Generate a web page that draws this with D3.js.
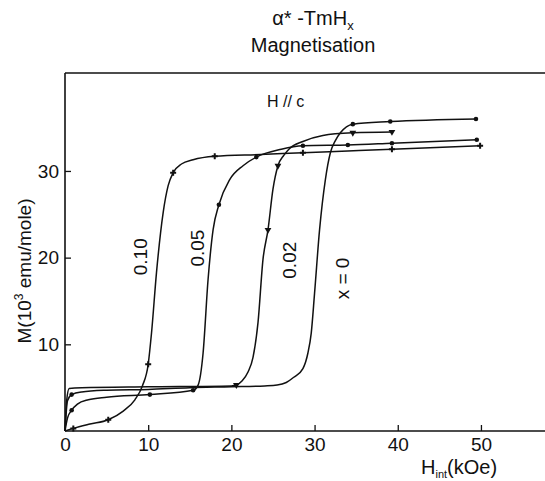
<!DOCTYPE html>
<html>
<head>
<meta charset="utf-8">
<script src="https://cdn.jsdelivr.net/npm/d3@7"></script>
<style>
  body { margin: 0; background: #fff; }
  text { font-family: "Liberation Sans", Arial, sans-serif; fill: #111; }
</style>
</head>
<body>
<div id="chart"></div>
<script>
// values: H_int (kOe) and M (10^3 emu/mole)
var H10 = [0, 1.0, 3, 5.2, 7, 8.4, 9.3, 10.0, 10.4, 11.0, 11.8, 12.4, 13.0, 14, 15.4, 18.0, 23.5, 28.6, 34, 39.3, 49.9];
var M10 = [0, 0.3, 0.8, 1.3, 2.3, 3.6, 5.2, 7.7, 11.3, 18.3, 25.2, 28.3, 29.8, 30.8, 31.3, 31.7, 31.9, 32.1, 32.3, 32.5, 32.9];
var H05 = [0, 0.3, 0.8, 1.5, 2.8, 5, 10.2, 15.4, 16.0, 16.6, 17.2, 17.8, 18.5, 19.8, 21.4, 23.0, 26, 28.6, 34, 39.3, 49.5];
var M05 = [0, 1.5, 2.4, 3.1, 3.6, 3.9, 4.2, 4.7, 5.3, 9, 17.5, 23.2, 26.1, 29.0, 30.6, 31.6, 32.5, 32.9, 33.0, 33.2, 33.6];
var H02 = [0, 0.2, 0.5, 2, 10, 20, 20.6, 21.3, 22.0, 22.6, 23.2, 23.8, 24.4, 25.0, 25.6, 26.3, 27.0, 28.6, 31, 34.6, 39.3];
var M02 = [0, 3.5, 4.9, 5.0, 5.1, 5.2, 5.3, 5.8, 6.8, 8.5, 12.5, 19.8, 23.2, 27.9, 30.6, 31.8, 32.6, 33.4, 34.1, 34.4, 34.5];
var H00 = [0, 0.3, 0.8, 2, 5, 10, 15, 20, 24, 25.5, 26.6, 27.5, 28.6, 29.2, 29.6, 30.0, 30.6, 31.3, 31.9, 32.5, 33.1, 34.6, 39.1, 49.4];
var M00 = [0, 3.5, 4.2, 4.5, 4.7, 4.8, 5.0, 5.1, 5.2, 5.3, 5.6, 6.2, 7.2, 9.0, 11.3, 15.9, 23.2, 29.0, 32.1, 33.5, 34.4, 35.4, 35.7, 36.0];

// indices of points that carry a symbol
var marks10 = [1, 3, 7, 12, 15, 17, 19, 20];
var marks05 = [2, 6, 7, 12, 15, 17, 18, 19, 20];
var marks02 = [6, 12, 14, 19, 20];
var marks00 = [2, 21, 22, 23];

var curveLabels = ["0.10", "0.05", "0.02", "x = 0"];
var labelPos = [[9.0, 20.1], [15.9, 21.1], [27.0, 19.7], [33.3, 17.6]];

var xTicks = [0, 10, 20, 30, 40, 50];
var yTicks = [10, 20, 30];

var width = 545, height = 481;

var svg = d3.select("#chart").append("svg")
    .attr("width", width)
    .attr("height", height);

var x = d3.scaleLinear().domain([0, 57.7]).range([65, 545]);
var y = d3.scaleLinear().domain([0, 41.3]).range([431, 73]);

// frame: left, bottom, top
var frame = svg.append("g")
    .attr("stroke", "#111")
    .attr("stroke-width", 1.6);
frame.append("line").attr("x1", x(0)).attr("x2", x(0)).attr("y1", y(0)).attr("y2", y(41.3));
frame.append("line").attr("x1", x(0)).attr("x2", x(57.7)).attr("y1", y(0)).attr("y2", y(0));
frame.append("line").attr("x1", x(0)).attr("x2", x(57.7)).attr("y1", y(41.3)).attr("y2", y(41.3));

// axes with inward ticks
var xAxis = svg.append("g")
    .attr("transform", "translate(0," + y(0) + ")")
    .call(d3.axisBottom(x).tickValues(xTicks).tickSizeInner(-6).tickSizeOuter(0).tickPadding(7));
xAxis.select(".domain").remove();
xAxis.selectAll(".tick line").attr("stroke", "#111").attr("stroke-width", 1.3)
    .filter(function(d) { return d == 0; }).remove();
xAxis.selectAll(".tick text")
    .style("font-size", "19px")
    .style("font-family", "Liberation Sans, Arial, sans-serif")
    .attr("fill", "#111");

var yAxis = svg.append("g")
    .attr("transform", "translate(" + x(0) + ",0)")
    .call(d3.axisLeft(y).tickValues(yTicks).tickSizeInner(-6).tickSizeOuter(0).tickPadding(6));
yAxis.select(".domain").remove();
yAxis.selectAll(".tick line").attr("stroke", "#111").attr("stroke-width", 1.3);
yAxis.selectAll(".tick text")
    .style("font-size", "19px")
    .style("font-family", "Liberation Sans, Arial, sans-serif")
    .attr("fill", "#111");

// curves
var series = [
  { h: H10, m: M10, marks: marks10, sym: "plus" },
  { h: H05, m: M05, marks: marks05, sym: "dot" },
  { h: H02, m: M02, marks: marks02, sym: "tri" },
  { h: H00, m: M00, marks: marks00, sym: "dot" }
];

var line = d3.line()
    .x(function(d) { return x(d[0]); })
    .y(function(d) { return y(d[1]); })
    .curve(d3.curveMonotoneX);

series.forEach(function(s) {
  var pts = s.h.map(function(h, i) { return [h, s.m[i]]; });
  svg.append("path")
    .datum(pts)
    .attr("d", line)
    .attr("fill", "none")
    .attr("stroke", "#111")
    .attr("stroke-width", 1.5);

  var mk = s.marks.map(function(i) { return pts[i]; });
  var g = svg.append("g");
  if (s.sym == "plus") {
    g.selectAll("path").data(mk).enter().append("path")
      .attr("d", d3.symbol().type(d3.symbolCross).size(20))
      .attr("transform", function(d) { return "translate(" + x(d[0]) + "," + y(d[1]) + ")"; })
      .attr("fill", "#111");
  } else if (s.sym == "tri") {
    g.selectAll("path").data(mk).enter().append("path")
      .attr("d", d3.symbol().type(d3.symbolTriangle).size(20))
      .attr("transform", function(d) { return "translate(" + x(d[0]) + "," + y(d[1]) + ") rotate(180)"; })
      .attr("fill", "#111");
  } else {
    g.selectAll("circle").data(mk).enter().append("circle")
      .attr("cx", function(d) { return x(d[0]); })
      .attr("cy", function(d) { return y(d[1]); })
      .attr("r", 2.3)
      .attr("fill", "#111");
  }
});

// curve labels (rotated)
svg.selectAll(".clabel")
  .data(curveLabels)
  .enter().append("text")
    .attr("class", "clabel")
    .attr("text-anchor", "middle")
    .attr("transform", function(d, i) {
      return "translate(" + x(labelPos[i][0]) + "," + y(labelPos[i][1]) + ") rotate(-90)";
    })
    .attr("dy", "0.35em")
    .style("font-size", "19px")
    .text(function(d) { return d; });

// H // c
svg.append("text")
  .attr("x", 267).attr("y", 107)
  .style("font-size", "16px")
  .text("H // c");

// title
var t1 = svg.append("text")
  .attr("x", 313).attr("y", 25)
  .attr("text-anchor", "middle")
  .style("font-size", "20px");
t1.append("tspan").text("\u03b1* -TmH");
t1.append("tspan").attr("dy", 5).style("font-size", "13px").text("x");

svg.append("text")
  .attr("x", 313).attr("y", 52)
  .attr("text-anchor", "middle")
  .style("font-size", "20px")
  .text("Magnetisation");

// axis titles
var yl = svg.append("text")
  .attr("text-anchor", "middle")
  .attr("transform", "translate(31,271) rotate(-90)")
  .style("font-size", "19px");
yl.append("tspan").text("M(10");
yl.append("tspan").attr("dy", -8).style("font-size", "12px").text("3");
yl.append("tspan").attr("dy", 8).text(" emu/mole)");

var xl = svg.append("text")
  .attr("x", 421).attr("y", 474)
  .style("font-size", "20px");
xl.append("tspan").text("H");
xl.append("tspan").attr("dy", 4).style("font-size", "11px").text("int");
xl.append("tspan").attr("dy", -4).text("(kOe)");
</script>
</body>
</html>
